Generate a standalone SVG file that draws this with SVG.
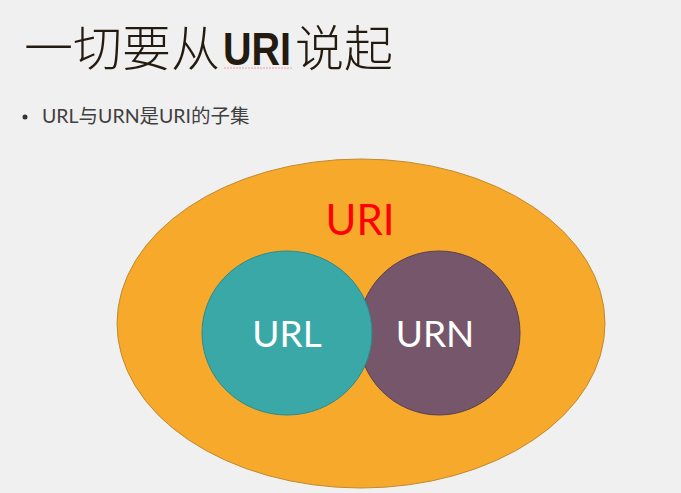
<svg xmlns="http://www.w3.org/2000/svg" width="681" height="493" viewBox="0 0 681 493">
<style>
.title{font-family:"Noto Sans CJK SC","Noto Sans CJK JP",sans-serif;font-size:49px;font-weight:300;fill:#231a10}
.titleb{font-family:"Liberation Sans","DejaVu Sans",sans-serif;font-weight:bold;font-size:46px;fill:#231a10}
.bullet{font-family:"Lato","Noto Sans CJK SC",sans-serif;font-size:19.5px;fill:#404040}
.lbl{font-family:"Lato","Open Sans",sans-serif;font-size:37px;fill:#ffffff;text-anchor:middle}
</style>
<rect width="681" height="493" fill="#f0f0f0"/>
<g id="title">
<text class="title" x="24" y="66">一切要从</text>
<text class="titleb" transform="translate(223 65) scale(0.86 1)" x="0" y="0">URI</text>
<text class="title" x="295" y="66">说起</text>
<path d="M224 68 L292 68" stroke="#f0a0a8" stroke-width="1" stroke-dasharray="2 1"/>
</g>
<g id="bullet">
<circle cx="25" cy="117" r="2.5" fill="#333"/>
<text class="bullet" x="42" y="123">URL与URN是URI的子集</text>
</g>
<g id="uri">
<ellipse cx="361" cy="323.5" rx="244" ry="164.5" fill="#f6a92a" stroke="#c08a30" stroke-width="1"/>
<text x="360" y="235" font-family="Lato,'Open Sans',sans-serif" font-size="42" fill="#ff0000" text-anchor="middle">URI</text>
</g>
<g id="urn">
<ellipse cx="439" cy="333" rx="81" ry="82" fill="#76566a" stroke="#5a4050" stroke-width="1"/>
<text class="lbl" x="435" y="347">URN</text>
</g>
<g id="url">
<ellipse cx="287" cy="333" rx="85" ry="82" fill="#3ba8a8" stroke="#2e8a8a" stroke-width="1"/>
<text class="lbl" x="287" y="347">URL</text>
</g>
<g id="connectors"/>
</svg>
